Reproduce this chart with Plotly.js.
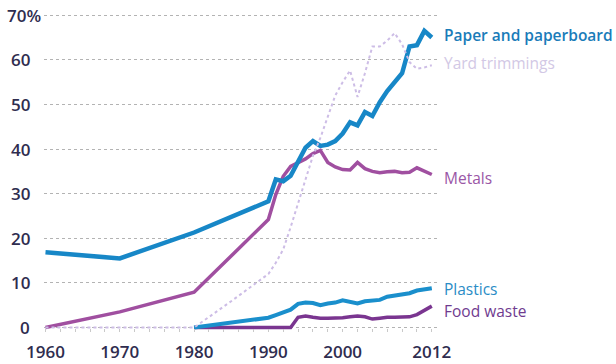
<!DOCTYPE html>
<html>
<head>
<meta charset="utf-8">
<script src="https://cdn.plot.ly/plotly-3.0.1.min.js"></script>
<style>
  html, body { margin: 0; padding: 0; background: #ffffff; }
  #chart { width: 616px; height: 364px; }
</style>
</head>
<body>
<div id="chart"></div>
<script>
// Recycling / composting rate by material, percent of generation
const years = [1960, 1970, 1980, 1985,
  1990, 1991, 1992, 1993, 1994, 1995, 1996, 1997, 1998, 1999,
  2000, 2001, 2002, 2003, 2004, 2005, 2006, 2007, 2008, 2009,
  2010, 2011, 2012];

const paper = [16.9, 15.5, 21.3, 24.7,
  28.3, 33.2, 32.8, 34.0, 37.0, 40.3, 41.8, 40.7, 41.0, 41.8,
  43.5, 46.0, 45.3, 48.3, 47.4, 50.5, 53.0, 55.0, 57.0, 63.0,
  63.3, 66.5, 65.0];

const yard = [0, 0, 0, 5.9,
  12.0, 14.5, 17.5, 22.5, 28.0, 33.0, 38.5, 42.5, 47.5, 52.0,
  55.0, 57.6, 51.7, 57.0, 63.0, 63.0, 64.3, 66.0, 63.5, 59.5,
  58.0, 58.3, 58.8];

const metals = [0, 3.5, 7.9, 16.0,
  24.2, 29.8, 33.9, 36.1, 36.9, 37.8, 39.0, 39.7, 37.0, 36.0,
  35.4, 35.3, 37.0, 35.6, 35.0, 34.7, 34.9, 35.0, 34.7, 34.8,
  35.8, 35.0, 34.3];

const plastics = [null, null, 0, 1.1,
  2.2, 2.8, 3.3, 4.0, 5.3, 5.6, 5.5, 5.0, 5.4, 5.6,
  6.1, 5.8, 5.4, 5.9, 6.1, 6.2, 6.9, 7.1, 7.3, 7.7,
  8.3, 8.6, 8.8];

const food = [null, null, 0, 0,
  0, 0, 0, 0, 2.3, 2.6, 2.3, 2.1, 2.1, 2.1,
  2.2, 2.4, 2.6, 2.4, 1.9, 2.1, 2.3, 2.3, 2.3, 2.4,
  2.9, 3.8, 4.8];

const seriesNames = ['Paper and paperboard', 'Yard trimmings', 'Metals', 'Plastics', 'Food waste'];

const yTicks = [0, 10, 20, 30, 40, 50, 60, 70];
const xTicks = [1960, 1970, 1980, 1990, 2000, 2012];

// styling
const tickFont = { family: 'Open Sans, Lato, sans-serif', size: 17, color: '#2f2d4f', weight: 600 };
const styles = {
  'Paper and paperboard': { color: '#1787c7', width: 4.5, dash: 'solid', labelColor: '#1a7cb9', labelY: 65.5, weight: 600 },
  'Yard trimmings':       { color: '#cdbde6', width: 2,   dash: 'dot',   labelColor: '#d2c8e5', labelY: 59.2, weight: 400 },
  'Metals':               { color: '#a04fa0', width: 3.5, dash: 'solid', labelColor: '#9a56a6', labelY: 33.6, weight: 500 },
  'Plastics':             { color: '#1a8fcc', width: 4,   dash: 'solid', labelColor: '#2a8cc6', labelY: 8.7,  weight: 500 },
  'Food waste':           { color: '#7a3590', width: 3.5, dash: 'solid', labelColor: '#6f3b8f', labelY: 3.8,  weight: 500 }
};
const valuesByName = {
  'Paper and paperboard': paper,
  'Yard trimmings': yard,
  'Metals': metals,
  'Plastics': plastics,
  'Food waste': food
};

// draw order (bottom to top)
const drawOrder = ['Metals', 'Food waste', 'Plastics', 'Paper and paperboard', 'Yard trimmings'];

const traces = drawOrder.map(name => ({
  type: 'scatter',
  mode: 'lines',
  name: name,
  x: years,
  y: valuesByName[name],
  connectgaps: false,
  line: { color: styles[name].color, width: styles[name].width, dash: styles[name].dash, shape: 'linear' },
  hoverinfo: 'skip'
}));

const annotations = [];
// y-axis labels, the top one carries the percent sign
yTicks.forEach((v, i) => {
  const suffix = (i === yTicks.length - 1) ? '%' : '';
  annotations.push({
    xref: 'paper', yref: 'y', x: 0, y: v,
    xanchor: 'right', yanchor: 'middle',
    xshift: -12 + (suffix ? 11 : 0),
    text: String(v) + suffix,
    showarrow: false,
    font: tickFont
  });
});
// series labels at the right end
seriesNames.forEach(name => {
  annotations.push({
    xref: 'x', yref: 'y', x: years[years.length - 1], y: styles[name].labelY,
    xanchor: 'left', yanchor: 'middle', xshift: 10,
    text: name, showarrow: false,
    font: { family: 'Open Sans, Lato, sans-serif', size: 15.5, color: styles[name].labelColor, weight: styles[name].weight }
  });
});

const layout = {
  width: 616, height: 364,
  margin: { l: 44, r: 179, t: 13, b: 32, pad: 0 },
  paper_bgcolor: '#ffffff', plot_bgcolor: '#ffffff',
  showlegend: false,
  xaxis: {
    range: [1959.8, 2012.7],
    tickvals: xTicks,
    ticktext: xTicks.map(String),
    tickfont: tickFont,
    showgrid: false, zeroline: false, showline: false,
    ticks: '',
    anchor: 'free', position: 0.014,
    ticklabelstandoff: 12,
    minor: { dtick: 2, tick0: 1960, ticks: 'outside', ticklen: 3, tickcolor: '#c9c9c9', tickwidth: 1, showgrid: false },
    fixedrange: true
  },
  yaxis: {
    range: [-1, 70.5],
    tickvals: yTicks,
    showticklabels: false,
    showgrid: true, gridcolor: '#b3b3b3', gridwidth: 1, griddash: 'dot',
    zeroline: false, showline: false, ticks: '',
    fixedrange: true
  },
  annotations: annotations
};

Plotly.newPlot('chart', traces, layout, { staticPlot: true, displayModeBar: false });
</script>
</body>
</html>
